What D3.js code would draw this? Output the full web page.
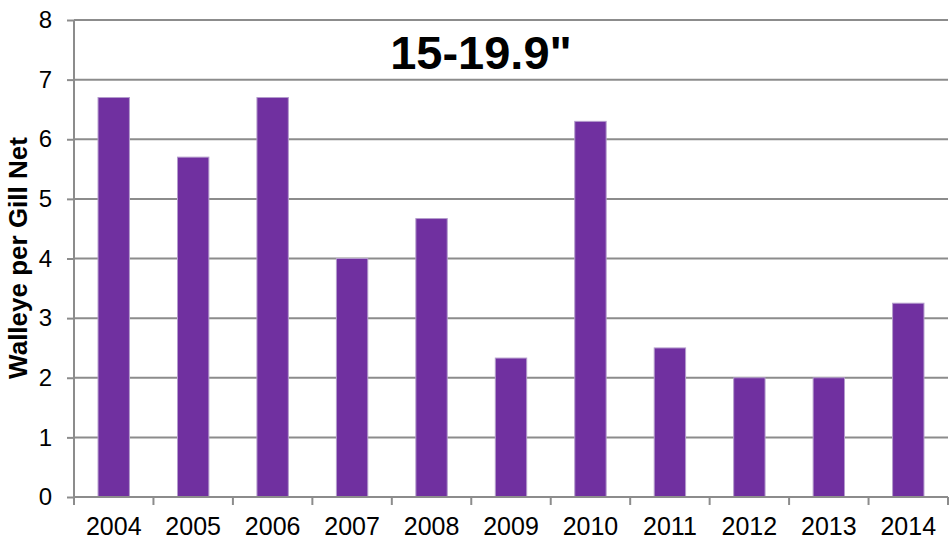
<!DOCTYPE html>
<html>
<head>
<meta charset="utf-8">
<script src="https://cdn.jsdelivr.net/npm/d3@7"></script>
<style>
  html, body { margin: 0; padding: 0; background: #fff; }
  svg { display: block; }
</style>
</head>
<body>
<script>
const years = ["2004","2005","2006","2007","2008","2009","2010","2011","2012","2013","2014"];
const values = [6.7, 5.7, 6.7, 4.0, 4.67, 2.33, 6.3, 2.5, 2.0, 2.0, 3.25];
const yTicks = [0,1,2,3,4,5,6,7,8];
const chartTitle = "15-19.9\"";
const yTitle = "Walleye per Gill Net";

const W = 951, H = 539;
const m = {left: 74, right: 3, top: 20, bottom: 42};
const svg = d3.select("body").append("svg").attr("width", W).attr("height", H);

const x = d3.scaleBand().domain(years).range([m.left, W - m.right]).paddingInner(0.605).paddingOuter(0.3025);
const xb = d3.scaleBand().domain(years).range([m.left, W - m.right]);
const y = d3.scaleLinear().domain([0, 8]).range([H - m.bottom, m.top]);

const gray = "#8c8c8c";
const font = "'Liberation Sans', Arial, sans-serif";

// gridlines
svg.append("g").selectAll("line").data(yTicks.filter(d => d > 0)).join("line")
  .attr("x1", m.left).attr("x2", W - m.right)
  .attr("y1", d => y(d)).attr("y2", d => y(d))
  .attr("stroke", gray).attr("stroke-width", 2);

// bars
svg.append("g").selectAll("rect").data(values).join("rect")
  .attr("x", (d, i) => x(years[i]))
  .attr("width", x.bandwidth())
  .attr("y", d => y(d))
  .attr("height", d => y(0) - y(d))
  .attr("fill", "#7030A0")
  .attr("stroke", "#b49ccc").attr("stroke-width", 1);

// y axis
const yAxis = svg.append("g").attr("transform", `translate(${m.left},0)`)
  .call(d3.axisLeft(y).tickValues(yTicks).tickSize(7).tickPadding(15));
yAxis.select(".domain").attr("stroke", gray).attr("stroke-width", 2).attr("d", `M0,${y(8)}V${y(0)}`);
yAxis.selectAll(".tick line").attr("stroke", gray).attr("stroke-width", 2);
yAxis.selectAll(".tick text").attr("font-family", font).attr("font-size", 24).attr("fill", "#000");

// x axis
const xAxis = svg.append("g").attr("transform", `translate(0,${y(0)})`)
  .call(d3.axisBottom(xb).tickSize(0).tickPadding(20));
xAxis.select(".domain").attr("stroke", gray).attr("stroke-width", 2).attr("d", `M${m.left},0H${W - m.right}`);
xAxis.selectAll(".tick text").attr("font-family", font).attr("font-size", 25).attr("fill", "#000");
// category separator ticks
svg.append("g").selectAll("line").data(d3.range(years.length + 1)).join("line")
  .attr("x1", i => m.left + i * xb.step()).attr("x2", i => m.left + i * xb.step())
  .attr("y1", y(0)).attr("y2", y(0) + 8)
  .attr("stroke", gray).attr("stroke-width", 2);

// title
svg.append("text").attr("x", 481).attr("y", 69).attr("text-anchor", "middle")
  .attr("font-family", font).attr("font-weight", "bold").attr("font-size", 47).attr("fill", "#000")
  .text(chartTitle);

// y title
svg.append("text").attr("transform", `translate(27,258) rotate(-90)`).attr("text-anchor", "middle")
  .attr("font-family", font).attr("font-weight", "bold").attr("font-size", 26).attr("fill", "#000")
  .text(yTitle);
</script>
</body>
</html>
